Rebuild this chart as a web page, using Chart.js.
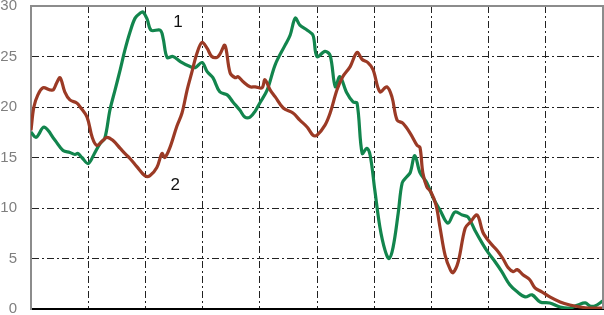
<!DOCTYPE html>
<html>
<head>
<meta charset="utf-8">
<style>
  html, body { margin: 0; padding: 0; background: #fff; }
</style>
</head>
<body>
<canvas id="lineChart" width="604" height="315"></canvas>

<script src="https://cdn.jsdelivr.net/npm/chart.js"></script>

<script>
// series 1 (green)
const greenX = [0, 0.9, 2.3, 4.2, 5.6, 6.8, 7.7, 8.2, 8.9, 10.0, 11.0, 12.1, 12.9, 13.8, 14.7, 15.6, 16.4, 17.3, 18.2, 19.1, 19.6, 20.3, 21.0, 22.6, 23.1, 23.8, 24.8, 26.1, 27.8, 28.7, 29.9, 30.8, 31.8, 33.0, 34.3, 35.3, 36.5, 37.4, 38.3, 39.2, 40.0, 41.3, 42.7, 44.4, 45.3, 46.2, 47.0, 48.3, 49.3, 50.0, 51.4, 52.3, 53.2, 54.0, 55.2, 56.3, 57.0, 57.9, 58.7, 59.3, 60.1, 61.0, 61.9, 62.6, 63.3, 64.2, 64.9, 65.7, 66.3, 67.1, 68.0, 69.2, 70.3, 71.5, 72.9, 74.1, 75.4, 76.4, 77.6, 78.9, 79.9, 81.1, 82.3, 83.7, 85.0, 86.4, 87.6, 89.0, 90.7, 92.5, 94.2, 95.6, 96.9, 97.7, 98.6, 100];
const greenY = [17.5, 17.0, 18.0, 16.7, 15.7, 15.5, 15.3, 15.4, 15.0, 14.4, 15.3, 16.4, 16.9, 19.7, 21.7, 23.7, 25.6, 27.4, 28.8, 29.3, 29.4, 28.7, 27.6, 27.6, 26.8, 24.9, 25.0, 24.5, 24.0, 23.9, 24.4, 23.5, 22.9, 21.5, 21.2, 20.5, 19.7, 19.0, 19.0, 19.6, 20.4, 21.7, 24.2, 26.1, 27.1, 28.8, 28.1, 27.6, 27.1, 25.0, 25.5, 25.1, 22.0, 23.0, 21.4, 20.5, 20.4, 15.4, 15.9, 15.2, 11.8, 8.1, 5.8, 5.0, 6.1, 9.5, 12.5, 13.1, 13.5, 15.2, 13.5, 12.5, 11.0, 9.8, 8.5, 9.6, 9.3, 9.1, 7.8, 6.5, 5.6, 4.7, 3.7, 2.4, 1.7, 1.2, 1.4, 0.7, 0.6, 0.2, 0.1, 0.4, 0.6, 0.3, 0.3, 0.8];

// series 2 (red)
const redX = [0, 0.5, 1.2, 2.1, 3.3, 3.9, 4.5, 5.1, 5.9, 6.8, 8.0, 8.6, 9.8, 10.7, 11.5, 12.6, 13.3, 14.3, 15.6, 16.4, 17.3, 18.5, 19.9, 20.8, 22.0, 22.9, 23.4, 24.3, 25.5, 26.4, 27.3, 28.1, 29.0, 29.9, 30.8, 31.6, 32.5, 33.0, 33.9, 34.8, 35.7, 36.2, 37.1, 38.3, 39.2, 40.4, 40.9, 41.8, 42.7, 44.1, 45.8, 47.0, 48.3, 49.3, 50.0, 51.4, 52.3, 53.5, 54.5, 55.8, 57.0, 57.9, 58.9, 59.8, 61.0, 62.2, 63.1, 64.0, 65.0, 66.3, 67.5, 68.0, 68.5, 69.2, 69.9, 70.8, 71.5, 72.4, 73.3, 73.8, 74.7, 75.9, 76.8, 78.0, 79.0, 80.2, 81.5, 82.5, 83.4, 84.3, 85.0, 86.0, 87.2, 88.1, 89.3, 90.7, 92.5, 94.2, 96.0, 97.7, 100];
const redY = [17.7, 20.0, 21.2, 21.9, 21.7, 21.7, 22.4, 22.9, 21.5, 20.7, 20.4, 20.0, 19.0, 17.0, 16.2, 16.7, 17.0, 16.7, 15.9, 15.4, 14.9, 14.1, 13.2, 13.2, 14.0, 15.4, 15.0, 16.0, 18.1, 19.4, 21.7, 23.4, 25.3, 26.4, 25.8, 25.0, 24.9, 25.2, 26.1, 23.4, 22.9, 23.0, 22.5, 22.0, 22.0, 21.9, 22.7, 21.7, 21.0, 19.9, 19.4, 18.7, 18.0, 17.2, 17.2, 18.2, 19.4, 21.7, 23.0, 24.0, 25.4, 24.7, 24.4, 23.7, 21.5, 22.0, 21.0, 18.7, 18.4, 17.4, 16.2, 16.0, 13.5, 12.1, 11.6, 10.3, 8.1, 5.3, 3.9, 3.6, 4.7, 8.0, 8.6, 9.3, 7.6, 6.6, 5.8, 5.0, 4.1, 3.7, 3.9, 3.4, 2.9, 2.1, 1.7, 1.2, 0.7, 0.4, 0.2, 0.1, 0.1];

const yTicks = [0, 5, 10, 15, 20, 25, 30];

// curve labels: text, x, y (data units)
const curveLabels = [
    { text: '1', x: 25.7, y: 28.4 },
    { text: '2', x: 25.2, y: 12.2 }
];

function toPoints(xs, ys){
    return xs.map((x, i) => ({ x: x, y: ys[i] }));
}

const frameAndLabels = {
    id: 'frameAndLabels',
    afterDatasetsDraw(chart){
        const ctx = chart.ctx;
        const a = chart.chartArea;
        ctx.save();
        ctx.strokeStyle = '#8c8c8c';
        ctx.lineWidth = 2;
        ctx.beginPath();
        ctx.moveTo(a.left, a.top);
        ctx.lineTo(a.right, a.top);
        ctx.lineTo(a.right, a.bottom);
        ctx.stroke();
        ctx.fillStyle = '#111';
        ctx.font = '17px "Liberation Sans", Arial, sans-serif';
        ctx.textAlign = 'center';
        ctx.textBaseline = 'middle';
        curveLabels.forEach(l => {
            ctx.fillText(l.text, chart.scales.x.getPixelForValue(l.x), chart.scales.y.getPixelForValue(l.y));
        });
        ctx.restore();
    }
};

let ctx = document.getElementById('lineChart').getContext('2d');
let chart = new Chart(ctx, {
    type: 'line',
    data: {
        datasets: [{
            label: '2',
            data: toPoints(redX, redY),
            borderColor: '#9b3a25',
            borderWidth: 3.2,
            pointRadius: 0,
            fill: false,
            tension: 0.35
        }, {
            label: '1',
            data: toPoints(greenX, greenY),
            borderColor: '#12854d',
            borderWidth: 3.2,
            pointRadius: 0,
            fill: false,
            tension: 0.35
        }]
    },
    options: {
        responsive: false,
        animation: false,
        layout: { padding: { top: 6, right: 1, left: 0, bottom: 0 } },
        plugins: {
            legend: { display: false },
            tooltip: { enabled: false }
        },
        scales: {
            x: {
                type: 'linear',
                min: 0,
                max: 100,
                ticks: { stepSize: 10, display: false },
                grid: { color: '#222', lineWidth: 1, drawTicks: false },
                border: { color: '#000', width: 2, dash: [7, 3, 2, 3] },
                afterFit(scale){
                    scale.height = 6;
                    scale.paddingLeft = 0;
                    scale.paddingRight = 0;
                }
            },
            y: {
                min: 0,
                max: 30,
                afterBuildTicks(scale){ scale.ticks = yTicks.map(v => ({ value: v })); },
                ticks: {
                    color: '#7f7f7f',
                    padding: 14,
                    font: { family: '"Liberation Sans", Arial, sans-serif', size: 15 }
                },
                grid: { color: '#222', lineWidth: 1, drawTicks: false },
                border: { color: '#8c8c8c', width: 2, dash: [7, 3, 2, 3] },
                afterFit(scale){
                    scale.width = 31;
                    scale.paddingTop = 0;
                    scale.paddingBottom = 0;
                }
            }
        }
    },
    plugins: [frameAndLabels]
});
</script>
</body>
</html>
